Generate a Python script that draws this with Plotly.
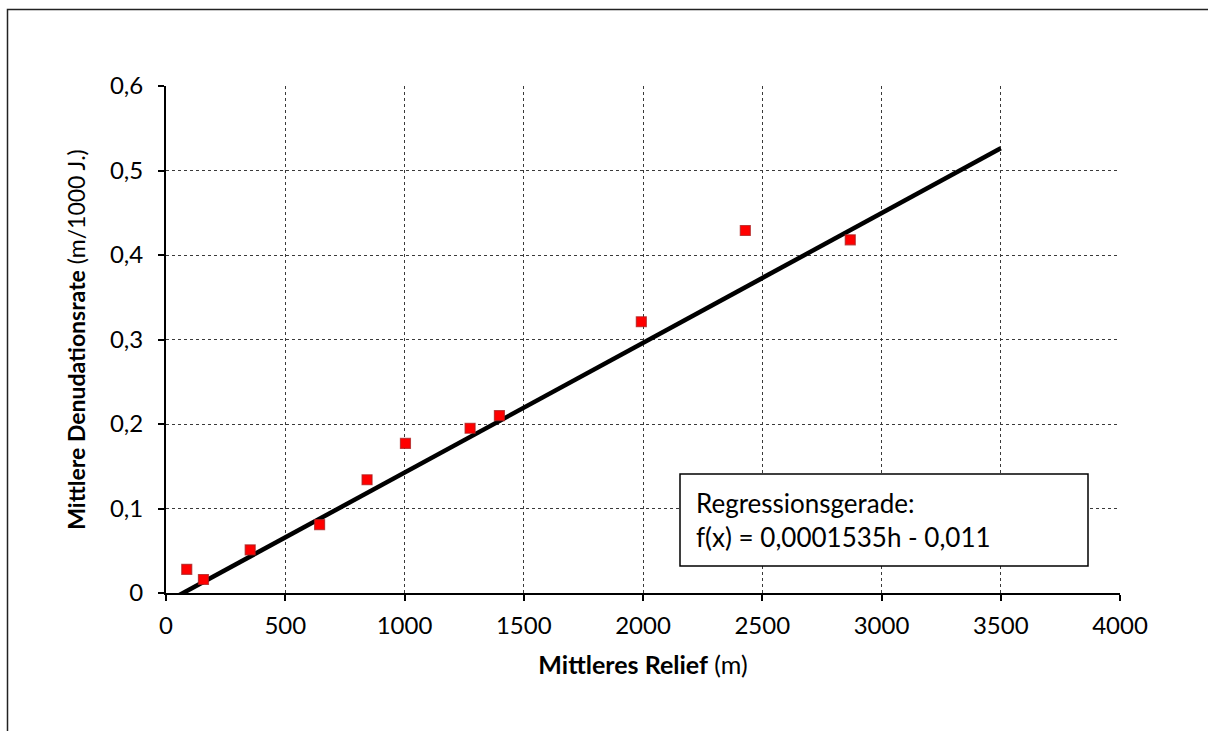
import plotly.graph_objects as go

# Data
relief_m = [87, 157, 353, 644, 843, 1004, 1275, 1398, 1993, 2429, 2869]
denudation = [0.028, 0.016, 0.051, 0.081, 0.134, 0.177, 0.195, 0.210, 0.321, 0.429, 0.418]

# Regression line: f(x) = 0.0001535 h - 0.011
reg_slope = 0.0001535
reg_intercept = -0.011
reg_x = [0, 3500]
reg_y = [reg_slope * h + reg_intercept for h in reg_x]

x_tickvals = [0, 500, 1000, 1500, 2000, 2500, 3000, 3500, 4000]
x_ticktext = ["0", "500", "1000", "1500", "2000", "2500", "3000", "3500", "4000"]
y_tickvals = [0, 0.1, 0.2, 0.3, 0.4, 0.5, 0.6]
y_ticktext = ["0", "0,1", "0,2", "0,3", "0,4", "0,5", "0,6"]

FONT = "Lato"
W, H = 1208, 731
ML, MR, MT, MB = 166, 88, 86, 138
PW, PH = W - ML - MR, H - MT - MB

def px_x(p):
    return (p - ML) / PW

def px_y(p):
    return (H - MB - p) / PH

fig = go.Figure()
fig.add_trace(go.Scatter(
    x=reg_x, y=reg_y, mode="lines",
    line=dict(color="black", width=4.5),
    showlegend=False, hoverinfo="skip",
))
fig.add_trace(go.Scatter(
    x=relief_m, y=denudation, mode="markers",
    marker=dict(symbol="square", size=10, color="#FF0000",
                line=dict(color="rgba(170,30,30,0.75)", width=1.2)),
    showlegend=False, cliponaxis=False,
))

axis_common = dict(
    showgrid=True, gridcolor="#3a3a3a", griddash="dot", gridwidth=1,
    showline=True, linecolor="black", linewidth=2,
    ticks="outside", ticklen=6, tickcolor="black", tickwidth=1.5,
    zeroline=False, mirror=False,
    tickfont=dict(family=FONT, size=24, color="black"),
)

fig.update_layout(
    width=W, height=H,
    margin=dict(l=ML, r=MR, t=MT, b=MB),
    paper_bgcolor="white", plot_bgcolor="white",
    font=dict(family=FONT, color="black"),
    xaxis=dict(
        range=[0, 4000], tickmode="array", tickvals=x_tickvals, ticktext=x_ticktext,
        title=dict(text="<b>Mittleres Relief</b> (m)", font=dict(family=FONT, size=25), standoff=19),
        ticklabelstandoff=4,
        **axis_common,
    ),
    yaxis=dict(
        range=[0, 0.6], tickmode="array", tickvals=y_tickvals, ticktext=y_ticktext,
        title=dict(text="<b>Mittlere Denudationsrate</b> (m/1000 J.)", font=dict(family=FONT, size=23), standoff=18),
        ticklabelstandoff=10,
        **axis_common,
    ),
    shapes=[
        dict(type="rect", xref="paper", yref="paper",
             x0=px_x(7.5), x1=px_x(1230), y0=px_y(9.5), y1=px_y(760),
             line=dict(color="#222222", width=1.5), fillcolor="rgba(0,0,0,0)", layer="below"),
        dict(type="rect", xref="paper", yref="paper",
             x0=px_x(680), x1=px_x(1088), y0=px_y(566), y1=px_y(474),
             line=dict(color="black", width=1.5), fillcolor="white", layer="above"),
    ],
    annotations=[
        dict(xref="paper", yref="paper", x=px_x(694), y=px_y(520), xanchor="left", yanchor="middle",
             text="Regressionsgerade:<br>f(x) = 0,0001535h - 0,011", align="left", showarrow=False,
             font=dict(family=FONT, size=26, color="black")),
    ],
)

fig.write_html("out.html")
